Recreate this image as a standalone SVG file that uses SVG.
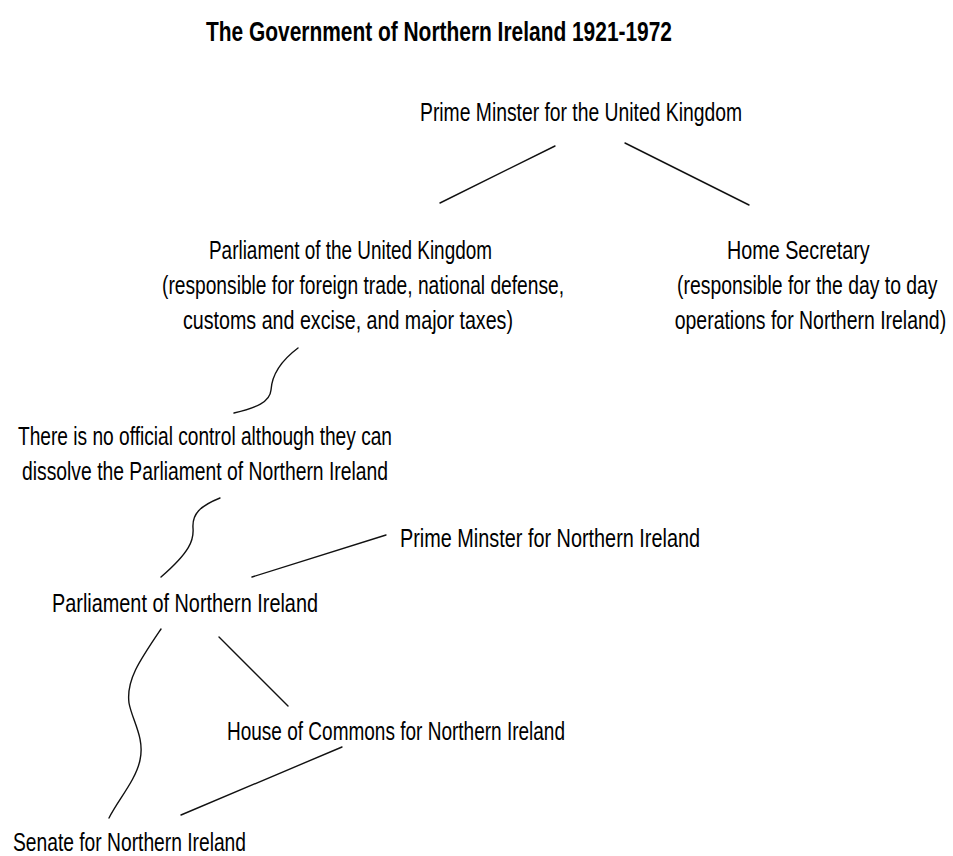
<svg xmlns="http://www.w3.org/2000/svg" width="953" height="856" viewBox="0 0 953 856">
<style>
  text { font-family: "Liberation Sans Narrow", "Liberation Sans", Arial, sans-serif; font-size: 25px; fill: #000; }
  .title { font-weight: bold; font-size: 28px; }
  .conn { fill: none; stroke: #111; stroke-width: 1.4; stroke-linecap: round; }
</style>
<rect width="953" height="856" fill="#fff"/>
<g id="title"><text class="title" x="206" y="41" textLength="466" lengthAdjust="spacingAndGlyphs">The Government of Northern Ireland 1921-1972</text></g>
<g id="pm-uk"><text x="420" y="121" textLength="322" lengthAdjust="spacingAndGlyphs">Prime Minster for the United Kingdom</text></g>
<g id="parliament-uk">
  <text x="209" y="259" textLength="283" lengthAdjust="spacingAndGlyphs">Parliament of the United Kingdom</text>
  <text x="162" y="294" textLength="402" lengthAdjust="spacingAndGlyphs">(responsible for foreign trade, national defense,</text>
  <text x="183" y="329" textLength="330" lengthAdjust="spacingAndGlyphs">customs and excise, and major taxes)</text>
</g>
<g id="home-secretary" transform="scale(0.78,1)">
  <text x="932" y="259" textLength="183" lengthAdjust="spacingAndGlyphs">Home Secretary</text>
  <text x="868" y="294" textLength="334" lengthAdjust="spacingAndGlyphs">(responsible for the day to day</text>
  <text x="865" y="329" textLength="348" lengthAdjust="spacingAndGlyphs">operations for Northern Ireland)</text>
</g>
<g id="no-control">
  <text x="18" y="445" textLength="374" lengthAdjust="spacingAndGlyphs">There is no official control although they can</text>
  <text x="22" y="480" textLength="366" lengthAdjust="spacingAndGlyphs">dissolve the Parliament of Northern Ireland</text>
</g>
<g id="pm-ni"><text x="400" y="547" textLength="300" lengthAdjust="spacingAndGlyphs">Prime Minster for Northern Ireland</text></g>
<g id="parliament-ni"><text x="52" y="612" textLength="266" lengthAdjust="spacingAndGlyphs">Parliament of Northern Ireland</text></g>
<g id="commons-ni"><text x="227" y="740" textLength="338" lengthAdjust="spacingAndGlyphs">House of Commons for Northern Ireland</text></g>
<g id="senate-ni"><text x="13" y="851" textLength="233" lengthAdjust="spacingAndGlyphs">Senate for Northern Ireland</text></g>
<g id="connectors">
  <line class="conn" x1="555" y1="146" x2="440" y2="203"/>
  <line class="conn" x1="625" y1="143" x2="749" y2="205"/>
  <path class="conn" d="M298,348 C282,360 272,374 271,390 C270,402 256,408 234,413"/>
  <path class="conn" d="M220,498 C200,506 192,514 193,528 C194,540 190,552 161,577"/>
  <line class="conn" x1="386" y1="535" x2="252" y2="577"/>
  <path class="conn" d="M161,629 C140,660 126,680 129,703 C132,720 145,738 140,760 C136,780 118,800 109,818"/>
  <line class="conn" x1="219" y1="637" x2="288" y2="706"/>
  <line class="conn" x1="342" y1="747" x2="181" y2="815"/>
</g>
</svg>
